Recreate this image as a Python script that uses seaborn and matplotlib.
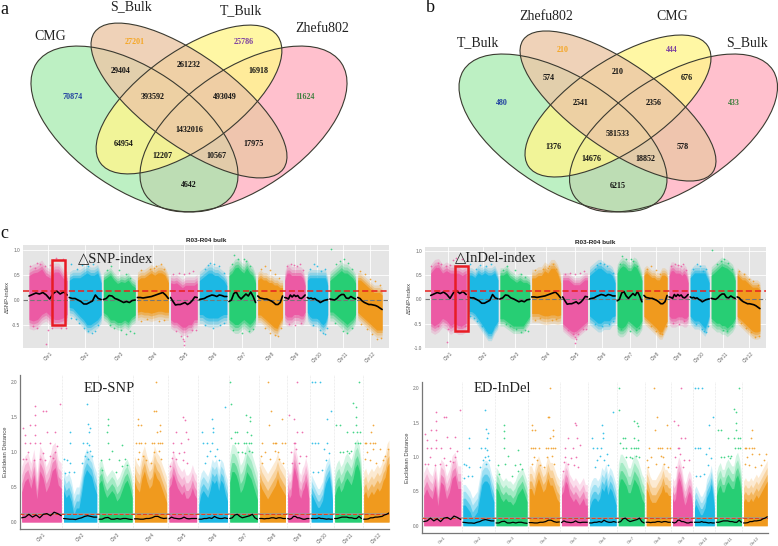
import numpy as np, pandas as pd
import matplotlib
matplotlib.use("Agg")
import matplotlib.pyplot as plt
from matplotlib.patches import Ellipse, Rectangle
import seaborn as sns

W, H = 778, 546
sns.set_theme(style="darkgrid")
plt.rcParams['font.family'] = ['Liberation Sans', 'DejaVu Sans']
SERIF = ['Liberation Serif', 'DejaVu Sans']

# ---------- Venn data ----------
a_names = ["CMG", "S_Bulk", "T_Bulk", "Zhefu802"]
a_counts = [70874, 27201, 25786, 11624, 29404, 261232, 16918, 393592, 493049, 1432016, 64954, 17975, 12207, 10567, 4642]
b_names = ["T_Bulk", "Zhefu802", "CMG", "S_Bulk"]
b_counts = [480, 210, 444, 433, 574, 210, 676, 2541, 2356, 581533, 1376, 578, 14676, 18852, 6215]

# ---------- Chromosomes ----------
chroms = ["Chr%d" % i for i in range(1, 13)]
chrom_len = [43, 36, 36, 35, 30, 31, 30, 28, 23, 23, 29, 27.5]
pink, blue, green, orange = "#EC5AA4", "#1CB8E4", "#27CE74", "#F09A1E"
chrom_col = [pink, blue, green, orange] * 3

snp_hi = [[.55,.6,.62,.68,.55,.5,.62,.62,.5,.45],[.45,.5,.5,.5,.55,.6,.55,.55,.6,.4],[.45,.5,.55,.45,.38,.42,.4,.45,.35,.3],
          [.45,.5,.5,.55,.6,.55,.6,.6,.55,.4],[.4,.38,.4,.35,.3,.35,.35,.35,.35,.4],[.45,.5,.55,.6,.6,.55,.55,.5,.45,.35],
          [.55,.6,.7,.72,.65,.6,.7,.6,.55,.4],[.45,.5,.45,.45,.4,.4,.35,.35,.3,.3],[.45,.6,.6,.55,.55,.55,.55,.55,.5,.35],
          [.45,.5,.5,.5,.5,.5,.5,.5,.5,.35],[.45,.5,.55,.6,.65,.6,.6,.55,.5,.4],[.45,.45,.4,.35,.3,.25,.2,.2,.2,.15]]
snp_lo = [[-.45,-.48,-.45,-.35,-.3,-.38,-.45,-.45,-.42,-.35],[-.2,-.22,-.3,-.38,-.45,-.55,-.55,-.5,-.45,-.35],[-.3,-.35,-.45,-.45,-.5,-.5,-.45,-.5,-.4,-.35],
          [-.3,-.28,-.3,-.3,-.32,-.3,-.28,-.28,-.3,-.3],[-.45,-.5,-.5,-.55,-.6,-.6,-.55,-.55,-.45,-.45],[-.35,-.35,-.4,-.42,-.42,-.42,-.42,-.38,-.35,-.35],
          [-.45,-.5,-.55,-.55,-.5,-.45,-.5,-.55,-.5,-.4],[-.35,-.35,-.4,-.45,-.5,-.55,-.6,-.62,-.5,-.4],[-.35,-.4,-.4,-.4,-.35,-.35,-.35,-.38,-.38,-.3],
          [-.3,-.38,-.42,-.42,-.42,-.45,-.52,-.55,-.5,-.35],[-.3,-.3,-.35,-.4,-.45,-.5,-.55,-.5,-.45,-.35],[-.3,-.35,-.4,-.45,-.5,-.55,-.6,-.65,-.65,-.65]]
snp_fringe = [.12, .11, .1, .11, .11, .12, .12, .1, .12, .11, .12, .1]
indel_hi = [[.6,.7,.72,.6,.65,.6,.6,.6,.55,.6],[.55,.55,.5,.6,.55,.6,.55,.55,.6,.45],[.55,.55,.6,.5,.45,.4,.45,.4,.4,.35],
            [.5,.5,.55,.55,.65,.6,.7,.7,.6,.4],[.45,.45,.45,.4,.35,.35,.35,.4,.45,.45],[.55,.6,.65,.7,.7,.65,.6,.6,.55,.4],
            [.6,.7,.75,.72,.65,.65,.75,.72,.6,.45],[.55,.6,.55,.5,.5,.45,.45,.55,.55,.5],[.55,.65,.65,.6,.6,.6,.55,.6,.55,.4],
            [.5,.55,.6,.6,.6,.6,.6,.6,.5,.4],[.55,.6,.65,.7,.75,.72,.7,.65,.6,.45],[.55,.5,.45,.45,.4,.35,.3,.3,.3,.25]]
indel_lo = [[-.55,-.6,-.55,-.45,-.5,-.6,-.55,-.6,-.6,-.55],[-.3,-.3,-.35,-.45,-.55,-.65,-.75,-.75,-.6,-.5],[-.45,-.45,-.5,-.55,-.6,-.6,-.6,-.6,-.5,-.4],
            [-.35,-.35,-.35,-.38,-.4,-.4,-.38,-.38,-.4,-.38],[-.55,-.6,-.65,-.7,-.72,-.7,-.65,-.6,-.55,-.5],[-.4,-.45,-.5,-.55,-.55,-.5,-.5,-.5,-.42,-.4],
            [-.6,-.65,-.65,-.6,-.5,-.55,-.6,-.65,-.6,-.5],[-.4,-.45,-.5,-.55,-.6,-.65,-.72,-.72,-.6,-.5],[-.4,-.45,-.45,-.45,-.42,-.42,-.42,-.45,-.45,-.4],
            [-.4,-.45,-.5,-.5,-.5,-.55,-.6,-.65,-.55,-.4],[-.45,-.5,-.55,-.55,-.6,-.6,-.65,-.6,-.55,-.45],[-.4,-.45,-.5,-.55,-.6,-.65,-.7,-.72,-.72,-.7]]
indel_fringe = [.12, .1, .1, .12, .1, .12, .12, .1, .12, .11, .12, .1]
delta_line = [[.08,.11,.14,.12,.15,.1,.02,.13,.18,.12,.16,.1],[.05,.03,.03,.0,-.03,-.08,-.08,-.05,-.02,.1,.03,.01],[.01,.03,.09,.08,.03,.01,-.02,-.05,-.03,-.05,-.01,0],
              [.05,.05,.04,.05,.06,.07,.09,.11,.13,.15,.1,.03],[.05,-.03,-.1,-.09,-.09,-.07,-.05,-.09,-.06,-.01,.06,.05],[.01,.02,.03,.06,.08,.1,.09,.07,.1,.09,.07,.07],
              [-.03,.0,.13,.16,.07,.02,.07,.12,.08,.16,.07,-.05],[.08,.04,.03,.02,.02,.0,-.02,-.05,-.09,-.09,-.05,.08],[.05,.04,.02,.1,.06,.1,.07,.09,.04,.03,.06,.1],
              [.05,.03,.04,.02,.03,.0,-.02,-.05,-.03,-.01,.0,.01],[.02,.01,.0,.03,.08,.11,.11,.04,.03,.07,.04,.02],[.05,.03,-.02,-.05,-.07,-.09,-.09,-.1,-.11,-.13,-.16,-.19]]
delta_dots = [[(.02,.68),(.2,.75),(.3,.72),(.42,.68),(.62,.8),(.7,.85),(.88,.82),(.15,.65),(.55,.7),(.2,-.55),(.45,-.88),(.5,-.6),(.98,-.55),(.85,-.55),(.1,-.52),(.6,-.55)],
              [(.05,.72),(.4,.7),(.6,.68),(.75,.72),(.25,.62),(.05,-.35),(.2,-.38),(.45,-.55),(.7,-.65),(.6,-.62),(.8,-.62),(.3,-.45),(.9,-.5)],
              [(.1,.6),(.25,.68),(.5,.6),(.7,.52),(.85,.45),(.35,-.55),(.55,-.6),(.7,-.68),(.85,-.62),(.2,-.5),(.95,-.65)],
              [(.1,.6),(.4,.62),(.6,.68),(.75,.72),(.55,.65),(.85,.62),(.1,-.42),(.3,-.38),(.7,-.42),(.85,-.4)],
              [(.1,.52),(.3,.55),(.5,.52),(.7,.55),(.85,.58),(.2,-.62),(.4,-.72),(.5,-.9),(.52,-.82),(.48,-.78),(.62,-.72),(.8,-.6),(.95,-.6)],
              [(.2,.62),(.3,.7),(.4,.75),(.55,.72),(.7,.68),(.9,.55),(.2,-.5),(.5,-.55),(.75,-.5),(.9,-.45)],
              [(.1,.72),(.2,.9),(.35,.82),(.55,.82),(.65,.78),(.8,.68),(.15,-.6),(.5,-.65),(.75,-.62),(.9,-.58)],
              [(.15,.62),(.3,.68),(.5,.6),(.7,.52),(.85,.45),(.3,-.55),(.5,-.65),(.7,-.7),(.8,-.72),(.95,-.55)],
              [(.1,.68),(.3,.72),(.45,.7),(.6,.68),(.75,.72),(.9,.6),(.2,-.48),(.5,-.5),(.8,-.45)],
              [(.15,.62),(.35,.72),(.5,.68),(.65,.58),(.85,.62),(.3,-.5),(.6,-.6),(.75,-.65),(.85,-.68),(.95,-.55)],
              [(.05,1.02),(.25,.72),(.4,.78),(.55,.82),(.7,.75),(.85,.62),(.2,-.45),(.5,-.62),(.65,-.65),(.85,-.55)],
              [(.1,.58),(.3,.52),(.5,.42),(.7,.38),(.9,.3),(.15,-.48),(.4,-.58),(.6,-.68),(.8,-.78),(.95,-.75)]]

ed_snp_hi = [[.55,.7,.75,.6,.8,.45,.85,.75,.55,.65,.85,.9,.65,.6],[.55,.45,.5,.4,.2,.3,.3,.5,.75,.85,.8,.75,.6,.5],[.65,.7,.55,.45,.5,.55,.5,.4,.45,.55,.65,.7,.6,.45],
             [.7,.6,.55,.75,.85,.7,.6,.65,.85,.75,.7,.6,.5,.4],[.6,.65,.8,.7,.6,.55,.5,.55,.45,.45,.5,.6,.5,.45],[.35,.5,.55,.5,.45,.55,.7,.65,.7,.55,.7,.65,.5,.4],
             [.7,.85,.85,.8,.7,.55,.6,.7,.85,.8,.75,.65,.55,.45],[.7,.6,.55,.5,.45,.5,.55,.6,.65,.75,.65,.6,.55,.5],[.55,.45,.5,.75,.9,.8,.7,.5,.45,.55,.6,.7,.6,.45],
             [.5,.45,.4,.35,.3,.3,.35,.4,.55,.65,.7,.75,.6,.4],[.5,.6,.65,.55,.6,.7,.75,.7,.65,.75,.9,.95,.85,.6],[.5,.55,.45,.5,.55,.5,.55,.6,.55,.6,.7,.75,.9,.95]]
ed_snp_fringe = [.24, .2, .2, .24, .22, .2, .26, .24, .22, .18, .24, .22]
ed_indel_hi = [[.55,.65,.55,.5,.7,.4,.75,.7,.5,.6,.8,.85,.65,.65],[.4,.4,.35,.3,.2,.25,.3,.5,.7,.75,.75,.7,.55,.45],[.65,.6,.5,.45,.5,.45,.45,.4,.45,.55,.6,.65,.55,.45],
               [.65,.65,.55,.7,.8,.7,.6,.65,.8,.7,.7,.6,.5,.45],[.55,.6,.75,.7,.55,.5,.45,.5,.45,.4,.45,.5,.4,.4],[.35,.45,.5,.5,.45,.5,.65,.6,.7,.55,.65,.6,.5,.4],
               [.65,.8,.8,.75,.7,.6,.6,.7,.8,.75,.7,.6,.5,.45],[.65,.6,.5,.45,.45,.45,.5,.55,.6,.7,.6,.6,.55,.55],[.5,.45,.5,.7,.8,.75,.65,.5,.4,.45,.55,.6,.55,.4],
               [.35,.4,.35,.3,.25,.25,.3,.35,.5,.55,.6,.7,.55,.35],[.55,.65,.7,.6,.6,.7,.75,.7,.65,.65,.8,.85,.75,.55],[.45,.5,.45,.45,.5,.45,.5,.55,.5,.55,.6,.65,.7,.75]]
ed_indel_fringe = [.22, .2, .2, .22, .2, .2, .24, .22, .2, .18, .22, .2]
ed_line = [[.06,.07,.11,.07,.1,.06,.11,.12,.09,.14,.12,.09],[.05,.045,.04,.04,.035,.05,.06,.08,.09,.08,.07,.07],[.04,.04,.06,.065,.04,.04,.05,.04,.05,.05,.04,.035],
           [.045,.045,.04,.04,.05,.05,.06,.08,.08,.06,.05,.055],[.045,.07,.055,.05,.045,.05,.07,.05,.045,.05,.05,.05],[.04,.04,.05,.05,.06,.05,.08,.06,.05,.05,.06,.05],
           [.05,.06,.1,.11,.08,.06,.07,.08,.09,.11,.06,.04],[.05,.05,.045,.05,.05,.06,.06,.05,.06,.06,.05,.05],[.05,.04,.05,.08,.08,.06,.06,.05,.04,.04,.05,.05],
           [.05,.05,.05,.05,.06,.05,.05,.045,.04,.045,.04,.04],[.05,.05,.06,.07,.07,.07,.06,.06,.05,.05,.08,.05],[.04,.04,.045,.06,.06,.07,.07,.075,.08,.1,.11,.13]]
ed_dots = [[(.34,1.66),(.34,1.53),(.55,1.58),(.61,1.58),(.98,1.68),(.04,1.34),(.08,1.25),(.21,1.39),(.34,1.39),(.34,1.25),(.34,1.13),(.08,1.13),(.21,1.13),(.63,1.29),(.85,1.29),(.47,1.13),(.72,1.13),(.85,1.0),(.17,1.0),(.55,.98),(.04,.9),(.3,.88),(.72,.94),(.8,.92),(.9,1.08),(.12,.9),(.45,.9),(.6,.88)],
           [(.7,1.68),(.75,1.4),(.8,1.35),(.78,1.28),(.2,1.28),(.2,1.13),(.02,.9),(.1,.88),(.2,.85),(.6,1.13),(.7,1.13),(.78,1.1),(.8,1.02),(.72,1.0),(.65,.95),(.3,.72),(.15,.72),(.75,.9),(.85,.95),(.55,.85),(.05,.7)],
           [(.27,1.47),(.27,1.38),(.25,1.28),(.27,1.13),(.7,1.1),(.05,.88),(.3,.9),(.6,.88),(.78,.9),(.85,.82),(.4,1.02),(.1,.75),(.5,.72),(.7,.8)],
           [(.68,2.0),(.62,1.58),(.67,1.58),(.1,1.47),(.1,1.39),(.2,1.39),(.8,1.39),(.7,1.28),(.8,1.3),(.05,1.13),(.13,1.13),(.2,1.13),(.32,1.13),(.55,1.13),(.62,1.13),(.72,1.13),(.8,1.13),(.85,1.13),(.15,1.0),(.25,.95),(.6,1.0),(.75,1.02),(.1,.9),(.35,.88),(.5,.85),(.82,.9)],
           [(.52,1.5),(.58,1.46),(.25,1.28),(.6,1.28),(.15,1.13),(.45,1.13),(.7,1.18),(.15,1.0),(.35,.98),(.55,1.0),(.25,.9),(.5,.88),(.65,.85),(.05,.8),(.1,.92)],
           [(.47,1.47),(.5,1.35),(.5,1.28),(.15,1.13),(.3,1.13),(.45,1.13),(.1,1.28),(.65,1.05),(.4,1.02),(.3,.95),(.55,.95),(.2,.85),(.7,.88),(.9,1.65)],
           [(.02,2.0),(.03,1.68),(.6,1.53),(.72,1.5),(.75,1.45),(.25,1.28),(.2,1.28),(.2,1.13),(.3,1.13),(.5,1.13),(.6,1.13),(.7,1.13),(.78,1.13),(.62,1.28),(.82,1.0),(.3,1.0),(.45,1.0),(.55,.98),(.68,1.02),(.05,1.2),(.78,1.25)],
           [(.32,2.0),(.45,1.58),(.85,1.47),(.35,1.39),(.1,1.13),(.5,1.13),(.58,1.13),(.65,1.13),(.88,1.13),(.97,1.13),(.2,1.0),(.6,1.02),(.7,1.0),(.05,.95),(.4,.9),(.75,.9),(.9,.85),(.08,.85)],
           [(.42,2.0),(.05,1.53),(.3,1.47),(.45,1.28),(.65,1.28),(.3,1.13),(.35,1.13),(.15,1.0),(.4,1.05),(.6,.95),(.85,.95),(.55,.85),(.2,.85)],
           [(.05,2.0),(.2,2.0),(.4,2.0),(.95,1.58),(.75,1.47),(.05,1.13),(.2,1.13),(.3,1.13),(.75,1.13),(.6,1.05),(.3,.72),(.85,.98),(.1,.72),(.5,.75),(.7,.88)],
           [(.9,2.0),(.7,1.7),(.8,1.65),(.8,1.5),(.05,1.39),(.2,1.39),(.78,1.39),(.85,1.28),(.95,1.28),(.45,1.28),(.7,1.28),(.88,1.13),(.95,1.13),(.3,1.0),(.45,1.02),(.6,1.02),(.75,1.13),(.2,1.0),(.55,.98)],
           [(.35,1.39),(.3,1.28),(.25,1.13),(.05,1.13),(.1,1.13),(.35,1.13),(.45,1.13),(.15,1.0),(.35,1.05),(.65,1.05),(.95,1.05),(.85,.95),(.05,.9),(.25,.88),(.5,.85),(.75,.88)]]

GAP = 2.5
chrom_start = np.concatenate([[0], np.cumsum(np.array(chrom_len) + GAP)[:-1]])
chrom_mid = chrom_start + np.array(chrom_len) / 2

fig = plt.figure(figsize=(W / 100, H / 100), dpi=100, facecolor="white")

def px_axes(l, t, r, b):
    return fig.add_axes([l / W, 1 - b / H, (r - l) / W, (b - t) / H])

LAYERS = [(1.0, .2), (.5, .28), (0.0, .5), (-.5, 1.0)]

def draw_genome(ax, hi, lo, fringe, dots):
    for i, name in enumerate(chroms):
        s, L = chrom_start[i], chrom_len[i]
        xs = s + np.linspace(0, L, len(hi[i]))
        h = np.array(hi[i])
        for k, al in LAYERS:
            top = h + k * fringe[i]
            if lo is None:
                bot = np.zeros(len(h))
            else:
                bot = np.array(lo[i]) - k * fringe[i]
            ax.fill_between(xs, bot, top, fc=chrom_col[i], alpha=al, lw=0, zorder=2)
        dd = pd.DataFrame(dots[i], columns=["frac", "val"])
        dd["x"] = s + dd["frac"] * L
        sns.scatterplot(data=dd, x="x", y="val", ax=ax, color=chrom_col[i], s=1.6, lw=0, alpha=.85, zorder=2, legend=False)
    return ax

def draw_lines(ax, line, lw):
    for i in range(12):
        df = pd.DataFrame({"x": chrom_start[i] + np.linspace(0, chrom_len[i], len(line[i])), "y": line[i]})
        sns.lineplot(data=df, x="x", y="y", ax=ax, color="black", lw=lw, zorder=5, errorbar=None, legend=False)

def style_ticks(ax, ylabel, yt, xfs=3.4):
    ax.set_xticks(chrom_mid)
    ax.set_xticklabels(chroms, rotation=45, fontsize=xfs, color="#666666", ha="center")
    ax.set_yticks(yt)
    ax.set_yticklabels(["%.1f" % v for v in yt], fontsize=3.4, color="#666666")
    ax.set_ylabel(ylabel, fontsize=4.2, color="#444444", labelpad=1.5)
    ax.set_xlabel("")
    ax.tick_params(length=1.2, width=.4, pad=.8, color="#888888")

def delta_panel(box, xlim, ylim, hi, lo, fringe, yt, rect, annot, annot_xy):
    ax = px_axes(*box)
    ax.set_facecolor("#E5E5E5")
    draw_genome(ax, hi, lo, fringe, delta_dots)
    ax.grid(True, color="white", lw=.6)
    ax.set_axisbelow(True)
    for s in ax.spines.values():
        s.set_visible(False)
    ax.axhline(0, color="#777777", lw=.8, ls=(0, (4, 2)), zorder=4)
    ax.axhline(.18, color="#E8201E", lw=1.1, ls=(0, (4, 2)), zorder=6)
    draw_lines(ax, delta_line, 1.2)
    ax.add_patch(Rectangle((rect[0], rect[2]), rect[1] - rect[0], rect[3] - rect[2], fill=False, ec="#E81C24", lw=1.8, zorder=7))
    ax.set_xlim(*xlim); ax.set_ylim(*ylim)
    style_ticks(ax, "\u0394SNP-index", yt)
    fig.text((box[0] + box[2]) / 2 / W, 1 - (box[1] - 4.5) / H, "R03-R04 bulk", fontsize=4.6, fontweight="bold", color="#222222", ha="center", va="center")
    fig.text(annot_xy[0] / W, 1 - annot_xy[1] / H, annot, fontsize=10.5, family=SERIF, color="#222222", ha="center", va="center", zorder=9)
    return ax

def ed_panel(box, xlim, ylim, hi, fringe, annot, annot_xy, xfs=3.4):
    ax = px_axes(*box)
    ax.set_facecolor("white")
    draw_genome(ax, hi, None, fringe, ed_dots)
    ax.grid(False)
    sns.despine(ax=ax)
    for s in ("left", "bottom"):
        ax.spines[s].set_color("#777777"); ax.spines[s].set_linewidth(.9)
    for i in range(12):
        ax.axvline(chrom_start[i] + chrom_len[i] + GAP / 2, color="#CCCCCC", lw=.4, ls=":", zorder=1)
    ax.axhline(.115, color="#999999", lw=1.4, alpha=.7, zorder=4)
    ax.axhline(.115, color="#E8401E", lw=.7, ls=(0, (4, 2)), zorder=4)
    draw_lines(ax, ed_line, .9)
    ax.set_xlim(*xlim); ax.set_ylim(*ylim)
    style_ticks(ax, "Euclidean Distance", [0, .5, 1, 1.5, 2], xfs)
    fig.text(annot_xy[0] / W, 1 - annot_xy[1] / H, annot, fontsize=10.5, family=SERIF, color="#222222", ha="center", va="center", zorder=9)
    return ax

delta_panel((23, 245, 389, 348), (-6.8, 406.8), (-.96, 1.1), snp_hi, snp_lo, snp_fringe, [-.5, 0, .5, 1], (25.6, 40.7, -.49, .81), "\u25b3SNP-index", (116, 259))
delta_panel((425, 247, 766, 348), (-6.9, 406.4), (-1.0, 1.076), indel_hi, indel_lo, indel_fringe, [-1, -.5, 0, .5, 1], (29, 45.2, -.65, .685), "\u25b3InDel-index", (496, 258))
ed_panel((20, 375, 389, 529), (-1.85, 399), (-.1, 2.1), ed_snp_hi, ed_snp_fringe, "ED-SNP", (109, 388))
ed_panel((422, 382, 768, 533), (-2, 399.9), (-.106, 2.09), ed_indel_hi, ed_indel_fringe, "ED-InDel", (502, 388), xfs=3.0)

# ---------- Venn overlay, pixel coordinates ----------
ov = fig.add_axes([0, 0, 1, 1], facecolor="none")
ov.set_xlim(0, W); ov.set_ylim(H, 0); ov.axis("off"); ov.grid(False)
PINK, GREEN, YEL, ORG = (255/255, 192/255, 205/255, 1.0), (162/255, 234/255, 170/255, .7), (255/255, 246/255, 142/255, .8), (236/255, 199/255, 167/255, .8)
a_ell = [(243.5, 129, 118, 60.6, -34, PINK), (134.5, 129, 118, 60.6, 34, GREEN), (189, 99.5, 109, 47.8, -35.6, YEL), (189, 100.5, 116.5, 45, 35.9, ORG)]
b_ell = [(673.5, 133, 117.6, 56.8, -32.2, PINK), (563, 133, 117.6, 56.8, 32.2, GREEN), (618, 106, 108, 45, -34, YEL), (618, 106, 115.6, 43.2, 34.9, ORG)]
for e in a_ell + b_ell:
    ov.add_patch(Ellipse((e[0], e[1]), 2 * e[2], 2 * e[3], angle=e[4], fc=e[5], lw=0))
for e in a_ell + b_ell:
    ov.add_patch(Ellipse((e[0], e[1]), 2 * e[2], 2 * e[3], angle=e[4], fc="none", ec="#3A3A30", lw=.8))

num_col = ["#1F3F9F", "#F5A623", "#7B3FA0", "#3F7F3F"] + ["#111111"] * 11
a_pos = [(73, 97), (135, 42), (244, 42), (305, 97), (121, 71), (189, 65), (258, 71), (153, 97), (225, 97), (189, 130), (124, 144), (254, 144), (162, 156), (216, 156), (189, 185)]
b_pos = [(502, 103), (563, 50), (672, 50), (734, 103), (549, 78), (618, 72), (687, 78), (581, 103), (654, 103), (618, 134), (553, 147), (683, 147), (591, 159), (645, 159), (618, 186)]
for vals, pos in ((a_counts, a_pos), (b_counts, b_pos)):
    for v, p, c in zip(vals, pos, num_col):
        ov.text(p[0], p[1], str(v), fontsize=5.8, fontweight="bold", family=SERIF, color=c, ha="center", va="center")
a_lab = [(50, 37), (131, 7), (241, 11), (322, 29)]
b_lab = [(478, 43), (546, 17), (672, 17), (747, 43)]
for names, pos in ((a_names, a_lab), (b_names, b_lab)):
    for n, p in zip(names, pos):
        ov.text(p[0], p[1], n, fontsize=10, family=SERIF, color="#222222", ha="center", va="center")
for t, p in (("a", (4, 9)), ("b", (430, 8)), ("c", (4, 234))):
    ov.text(p[0], p[1], t, fontsize=13, family=SERIF, color="#111111", ha="center", va="center")

fig.savefig("out.png", dpi=100)
